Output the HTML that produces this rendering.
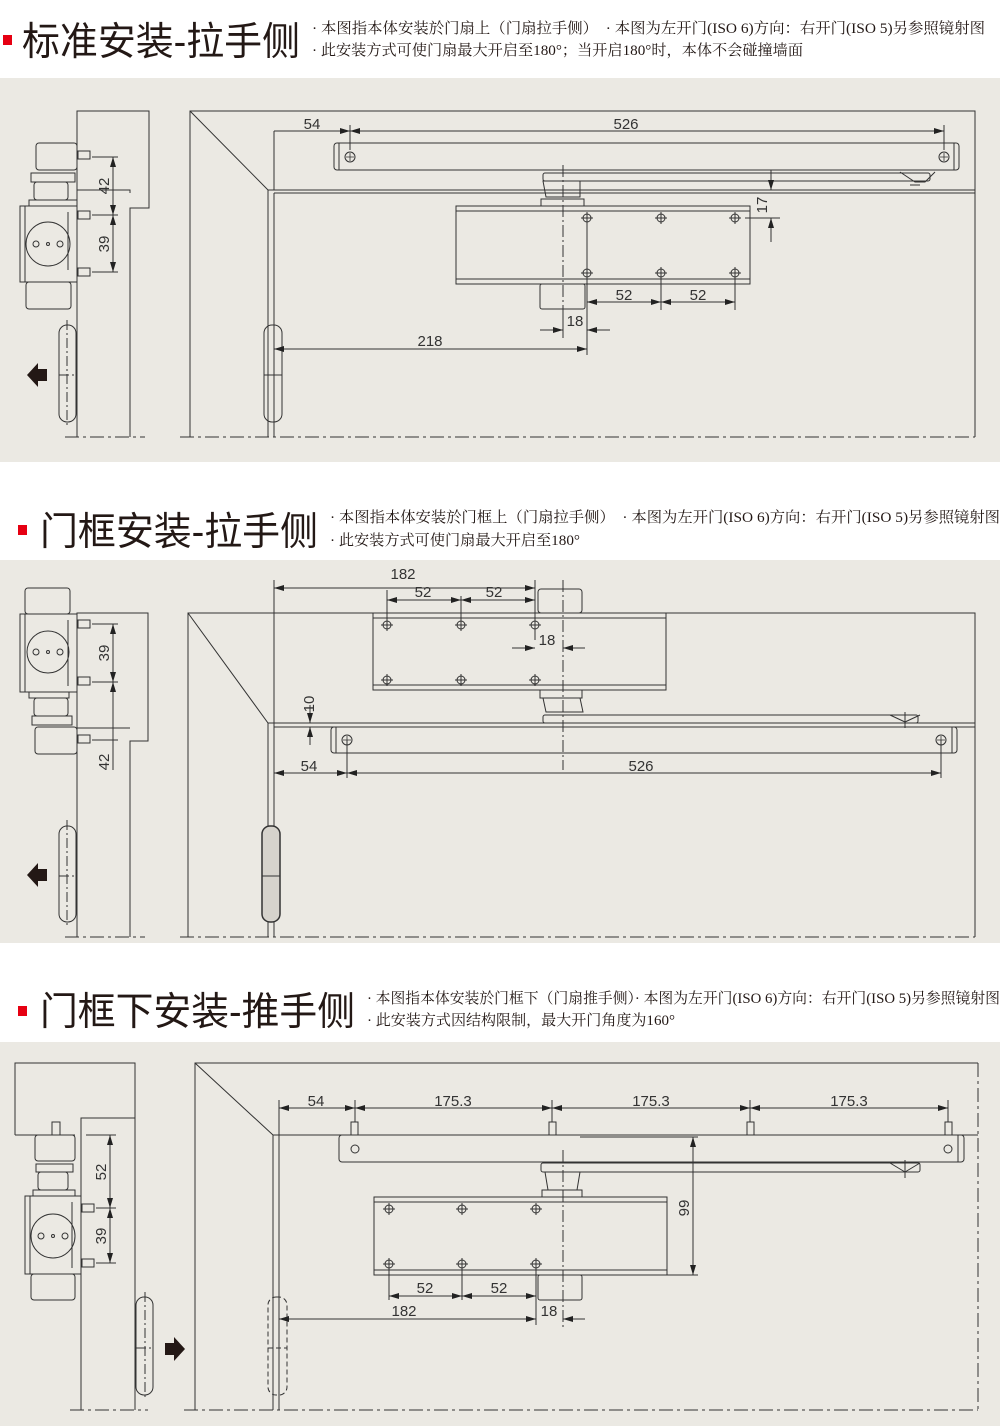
<!DOCTYPE html>
<html><head><meta charset="utf-8"><style>
html,body{margin:0;padding:0;background:#fff;}
svg{display:block}
.t{font-family:"Liberation Sans","Noto Sans CJK SC",sans-serif;font-size:39px;fill:#231815;font-weight:400}
.n{font-family:"Liberation Serif","Noto Serif CJK SC",serif;font-size:15px;fill:#231815}
.d{font-family:"Liberation Sans",sans-serif;font-size:15px;fill:#333}
</style></head><body>
<svg width="1000" height="1426" viewBox="0 0 1000 1426" xmlns="http://www.w3.org/2000/svg">
<defs>
<marker id="a" viewBox="0 0 10 6" refX="10" refY="3" markerWidth="10" markerHeight="6" orient="auto-start-reverse" markerUnits="userSpaceOnUse"><path d="M0,0L10,3L0,6z" fill="#222"/></marker>
<g id="h"><circle r="4" fill="none" stroke="#333"/><path d="M-6,0H6M0,-6V6" stroke="#333"/></g>
<g id="s"><circle r="5" fill="none" stroke="#333"/><path d="M-4,0H4M0,-4V4" stroke="#333" stroke-width=".8"/></g>
</defs>
<!-- panels -->
<rect x="0" y="78" width="1000" height="384" fill="#ebe9e3"/>
<rect x="0" y="560" width="1000" height="383" fill="#ebe9e3"/>
<rect x="0" y="1042" width="1000" height="384" fill="#ebe9e3"/>
<!-- headers -->
<rect x="3" y="35" width="9" height="10" fill="#e60012"/>
<text class="t" x="22" y="55" textLength="278" lengthAdjust="spacingAndGlyphs">标准安装-拉手侧</text>
<text class="n" x="312" y="33" textLength="673" lengthAdjust="spacingAndGlyphs">· 本图指本体安装於门扇上（门扇拉手侧）　· 本图为左开门(ISO 6)方向：右开门(ISO 5)另参照镜射图</text>
<text class="n" x="312" y="55" textLength="491" lengthAdjust="spacingAndGlyphs">· 此安装方式可使门扇最大开启至180°；当开启180°时，本体不会碰撞墙面</text>
<rect x="18" y="525" width="9" height="10" fill="#e60012"/>
<text class="t" x="40" y="545" textLength="278" lengthAdjust="spacingAndGlyphs">门框安装-拉手侧</text>
<text class="n" x="330" y="522" textLength="670" lengthAdjust="spacingAndGlyphs">· 本图指本体安装於门框上（门扇拉手侧）　· 本图为左开门(ISO 6)方向：右开门(ISO 5)另参照镜射图</text>
<text class="n" x="330" y="545" textLength="250" lengthAdjust="spacingAndGlyphs">· 此安装方式可使门扇最大开启至180°</text>
<rect x="18" y="1006" width="9" height="10" fill="#e60012"/>
<text class="t" x="40" y="1025" textLength="315" lengthAdjust="spacingAndGlyphs">门框下安装-推手侧</text>
<text class="n" x="367" y="1003" textLength="633" lengthAdjust="spacingAndGlyphs">· 本图指本体安装於门框下（门扇推手侧）· 本图为左开门(ISO 6)方向：右开门(ISO 5)另参照镜射图</text>
<text class="n" x="367" y="1025" textLength="308" lengthAdjust="spacingAndGlyphs">· 此安装方式因结构限制，最大开门角度为160°</text>

<g fill="none" stroke="#333" stroke-width="1">
<!-- ===== Section 1 left ===== -->
<path d="M77,437V111H149V208H130V437M77,190H130V193"/>
<rect x="36" y="143" width="41" height="27" rx="3"/>
<rect x="31" y="173" width="44" height="9"/>
<rect x="34" y="182" width="34" height="18" rx="3"/>
<rect x="29" y="200" width="48" height="6"/>
<rect x="20" y="206" width="57" height="76"/>
<path d="M25,206V282M68,212V270"/>
<circle cx="48" cy="244" r="22"/>
<circle cx="36" cy="244" r="3"/><circle cx="48" cy="244" r="1.5"/><circle cx="60" cy="244" r="3"/>
<rect x="26" y="282" width="45" height="27" rx="3"/>
<rect x="78" y="151" width="12" height="8"/><rect x="78" y="211" width="12" height="8"/><rect x="78" y="268" width="12" height="8"/>
<path d="M92,157H118M92,215H118M92,272H118"/>
<line x1="113" y1="157" x2="113" y2="215" marker-start="url(#a)" marker-end="url(#a)"/>
<line x1="113" y1="215" x2="113" y2="272" marker-start="url(#a)" marker-end="url(#a)"/>
<rect x="59" y="325" width="17" height="97" rx="8"/>
<path d="M59,375H76M67,320V428" stroke-dasharray="10 3 2 3"/>
<path d="M65,437H145M180,437H975" stroke-dasharray="14 4 3 4"/>
<!-- right view -->
<path d="M190,437V111H975V437M190,111L268,190H975M274,193H975M268,190V437M274,193V437"/>
<rect x="264" y="325" width="18" height="97" rx="8"/>
<path d="M264,375H282"/>
<rect x="334" y="143" width="625" height="27" rx="3"/>
<path d="M339,143V170M954,143V170"/>
<rect x="543" y="173" width="387" height="8" rx="2"/>
<path d="M543,181H580V197H546Z"/>
<rect x="541" y="199" width="43" height="7"/>
<rect x="456" y="206" width="294" height="78"/>
<path d="M456,211H750M456,279H750"/>
<rect x="540" y="284" width="45" height="25" rx="2"/>
<path d="M900,172L915,182H925L935,172M910,185H920"/>
<path d="M563,165V335" stroke-dasharray="12 3 2 3"/>
<path d="M274,131V190M350,125V150M944,125V150M587,218V355M661,273V310M735,273V310M745,218H780M563,310V338"/>
<line x1="274" y1="131" x2="350" y2="131" marker-end="url(#a)"/>
<line x1="350" y1="131" x2="944" y2="131" marker-start="url(#a)" marker-end="url(#a)"/>
<line x1="771" y1="170" x2="771" y2="190" marker-end="url(#a)"/>
<line x1="771" y1="218" x2="771" y2="242" marker-start="url(#a)"/>
<line x1="587" y1="302" x2="661" y2="302" marker-start="url(#a)" marker-end="url(#a)"/>
<line x1="661" y1="302" x2="735" y2="302" marker-start="url(#a)" marker-end="url(#a)"/>
<line x1="540" y1="330" x2="563" y2="330" marker-end="url(#a)"/>
<line x1="610" y1="330" x2="587" y2="330" marker-end="url(#a)"/>
<line x1="274" y1="349" x2="587" y2="349" marker-start="url(#a)" marker-end="url(#a)"/>
</g>
<use href="#s" x="350" y="157"/><use href="#s" x="944" y="157"/>
<use href="#h" x="587" y="218"/><use href="#h" x="661" y="218"/><use href="#h" x="735" y="218"/>
<use href="#h" x="587" y="273"/><use href="#h" x="661" y="273"/><use href="#h" x="735" y="273"/>
<path d="M27,375L38,363V369H47V381H38V387Z" fill="#231815"/>
<g class="d">
<text x="312" y="129" text-anchor="middle">54</text><text x="626" y="129" text-anchor="middle">526</text>
<text x="624" y="300" text-anchor="middle">52</text><text x="698" y="300" text-anchor="middle">52</text>
<text x="575" y="326" text-anchor="middle">18</text><text x="430" y="346" text-anchor="middle">218</text>
<text transform="translate(109,186) rotate(-90)" text-anchor="middle">42</text>
<text transform="translate(109,244) rotate(-90)" text-anchor="middle">39</text>
<text transform="translate(767,205) rotate(-90)" text-anchor="middle">17</text>
</g>

<!-- ===== Section 2 ===== -->
<g fill="none" stroke="#333" stroke-width="1">
<path d="M77,937V613H148V741H130V937M77,728H130"/>
<rect x="25" y="588" width="45" height="26" rx="3"/>
<rect x="20" y="614" width="57" height="78"/>
<path d="M25,614V692M68,620V686"/>
<circle cx="48" cy="652" r="21"/>
<circle cx="36" cy="652" r="3"/><circle cx="48" cy="652" r="1.5"/><circle cx="60" cy="652" r="3"/>
<rect x="29" y="692" width="40" height="6"/>
<rect x="34" y="698" width="34" height="18" rx="3"/>
<rect x="32" y="716" width="40" height="9"/>
<rect x="35" y="727" width="42" height="27" rx="3"/>
<rect x="78" y="620" width="12" height="8"/><rect x="78" y="677" width="12" height="8"/><rect x="78" y="735" width="12" height="8"/>
<path d="M92,624H118M92,682H118M92,740H118"/>
<line x1="113" y1="624" x2="113" y2="682" marker-start="url(#a)" marker-end="url(#a)"/>
<line x1="113" y1="682" x2="113" y2="770" marker-start="url(#a)"/>
<rect x="59" y="826" width="17" height="96" rx="8"/>
<path d="M59,876H76M67,820V928" stroke-dasharray="10 3 2 3"/>
<path d="M65,937H145M180,937H975" stroke-dasharray="14 4 3 4"/>
<path d="M188,937V613H975V937M188,613L268,723H975M274,727H975M268,723V937M274,727V937"/>
<rect x="262" y="826" width="18" height="96" rx="8" fill="#d6d3cc" stroke-width="1.5"/>
<path d="M262,876H280"/>
<rect x="373" y="613" width="293" height="77"/>
<path d="M373,618H666M373,685H666"/>
<rect x="538" y="589" width="44" height="24" rx="3"/>
<rect x="540" y="690" width="42" height="8"/>
<path d="M543,698H580L583,712H546Z"/>
<rect x="543" y="715" width="375" height="8" rx="2"/>
<path d="M890,715L905,722M920,715L905,722M905,712V728"/>
<rect x="331" y="727" width="626" height="26" rx="3"/>
<path d="M336,727V753M952,727V753"/>
<path d="M563,580V770" stroke-dasharray="12 3 2 3"/>
<path d="M274,580V775M535,580V640M387,590V625M461,596V625M347,740V778M941,740V778M300,723H320M300,727H320"/>
<line x1="274" y1="588" x2="535" y2="588" marker-start="url(#a)" marker-end="url(#a)"/>
<line x1="387" y1="600" x2="461" y2="600" marker-start="url(#a)" marker-end="url(#a)"/>
<line x1="461" y1="600" x2="535" y2="600" marker-start="url(#a)" marker-end="url(#a)"/>
<line x1="512" y1="648" x2="535" y2="648" marker-end="url(#a)"/>
<line x1="585" y1="648" x2="563" y2="648" marker-end="url(#a)"/>
<line x1="310" y1="705" x2="310" y2="723" marker-end="url(#a)"/>
<line x1="310" y1="745" x2="310" y2="727" marker-end="url(#a)"/>
<line x1="274" y1="773" x2="347" y2="773" marker-start="url(#a)" marker-end="url(#a)"/>
<line x1="347" y1="773" x2="941" y2="773" marker-start="url(#a)" marker-end="url(#a)"/>
</g>
<use href="#s" x="347" y="740"/><use href="#s" x="941" y="740"/>
<use href="#h" x="387" y="625"/><use href="#h" x="461" y="625"/><use href="#h" x="535" y="625"/>
<use href="#h" x="387" y="680"/><use href="#h" x="461" y="680"/><use href="#h" x="535" y="680"/>
<path d="M27,875L38,863V869H47V881H38V887Z" fill="#231815"/>
<g class="d">
<text x="403" y="579" text-anchor="middle">182</text>
<text x="423" y="597" text-anchor="middle">52</text><text x="494" y="597" text-anchor="middle">52</text>
<text x="547" y="645" text-anchor="middle">18</text>
<text x="309" y="771" text-anchor="middle">54</text><text x="641" y="771" text-anchor="middle">526</text>
<text transform="translate(109,653) rotate(-90)" text-anchor="middle">39</text>
<text transform="translate(109,762) rotate(-90)" text-anchor="middle">42</text>
<text transform="translate(314,704) rotate(-90)" text-anchor="middle">10</text>
</g>

<!-- ===== Section 3 ===== -->
<g fill="none" stroke="#333" stroke-width="1">
<path d="M15,1135V1063H135V1118H81V1410M135,1118V1410M15,1135H75"/>
<rect x="52" y="1122" width="8" height="13"/>
<rect x="35" y="1135" width="40" height="26" rx="3"/>
<rect x="36" y="1164" width="37" height="8"/>
<rect x="38" y="1172" width="30" height="18" rx="3"/>
<rect x="33" y="1190" width="42" height="6"/>
<rect x="25" y="1196" width="56" height="78"/>
<path d="M30,1196V1274M72,1202V1268"/>
<circle cx="53" cy="1236" r="22"/>
<circle cx="41" cy="1236" r="3"/><circle cx="53" cy="1236" r="1.5"/><circle cx="65" cy="1236" r="3"/>
<rect x="31" y="1274" width="44" height="26" rx="3"/>
<rect x="82" y="1204" width="12" height="8"/><rect x="82" y="1259" width="12" height="8"/>
<path d="M86,1135H116M96,1208H116M96,1263H116"/>
<line x1="110" y1="1135" x2="110" y2="1208" marker-start="url(#a)" marker-end="url(#a)"/>
<line x1="110" y1="1208" x2="110" y2="1263" marker-start="url(#a)" marker-end="url(#a)"/>
<rect x="136" y="1297" width="17" height="98" rx="8"/>
<path d="M136,1348H153M145,1292V1400" stroke-dasharray="10 3 2 3"/>
<path d="M70,1410H148M184,1410H978M978,1063V1410" stroke-dasharray="14 4 3 4"/>
<path d="M195,1410V1063H978M195,1063L273,1135H978M279,1135V1410M273,1135V1410"/>
<rect x="268" y="1297" width="19" height="98" rx="8" stroke-dasharray="5 3"/>
<path d="M268,1348H287" stroke-dasharray="5 3"/>
<rect x="339" y="1135" width="625" height="27" rx="3"/>
<path d="M958,1135V1162"/>
<circle cx="355" cy="1149" r="4"/><circle cx="948" cy="1149" r="4"/>
<rect x="351" y="1122" width="7" height="13"/><rect x="549" y="1122" width="7" height="13"/><rect x="747" y="1122" width="7" height="13"/><rect x="945" y="1122" width="7" height="13"/>
<rect x="541" y="1163" width="379" height="9" rx="2"/>
<path d="M545,1172H580L577,1190H548Z"/>
<rect x="542" y="1190" width="40" height="7"/>
<path d="M890,1163L905,1172M920,1163L905,1172M905,1160V1178"/>
<rect x="374" y="1197" width="293" height="78"/>
<path d="M374,1202H667M374,1270H667"/>
<rect x="538" y="1275" width="44" height="25" rx="2"/>
<path d="M563,1150V1330" stroke-dasharray="12 3 2 3"/>
<path d="M279,1100V1135M355,1100V1122M552,1100V1122M750,1100V1122M948,1100V1122M667,1275H698M580,1137H698M389,1264V1300M462,1264V1300M536,1264V1325"/>
<line x1="279" y1="1108" x2="355" y2="1108" marker-start="url(#a)" marker-end="url(#a)"/>
<line x1="355" y1="1108" x2="552" y2="1108" marker-start="url(#a)" marker-end="url(#a)"/>
<line x1="552" y1="1108" x2="750" y2="1108" marker-start="url(#a)" marker-end="url(#a)"/>
<line x1="750" y1="1108" x2="948" y2="1108" marker-start="url(#a)" marker-end="url(#a)"/>
<line x1="693" y1="1137" x2="693" y2="1275" marker-start="url(#a)" marker-end="url(#a)"/>
<line x1="389" y1="1296" x2="462" y2="1296" marker-start="url(#a)" marker-end="url(#a)"/>
<line x1="462" y1="1296" x2="536" y2="1296" marker-start="url(#a)" marker-end="url(#a)"/>
<line x1="279" y1="1319" x2="536" y2="1319" marker-start="url(#a)" marker-end="url(#a)"/>
<line x1="585" y1="1319" x2="563" y2="1319" marker-end="url(#a)"/>
</g>
<use href="#h" x="389" y="1209"/><use href="#h" x="462" y="1209"/><use href="#h" x="536" y="1209"/>
<use href="#h" x="389" y="1264"/><use href="#h" x="462" y="1264"/><use href="#h" x="536" y="1264"/>
<path d="M185,1349L174,1337V1343H165V1355H174V1361Z" fill="#231815"/>
<g class="d">
<text x="316" y="1106" text-anchor="middle">54</text>
<text x="453" y="1106" text-anchor="middle">175.3</text><text x="651" y="1106" text-anchor="middle">175.3</text><text x="849" y="1106" text-anchor="middle">175.3</text>
<text x="425" y="1293" text-anchor="middle">52</text><text x="499" y="1293" text-anchor="middle">52</text>
<text x="404" y="1316" text-anchor="middle">182</text><text x="549" y="1316" text-anchor="middle">18</text>
<text transform="translate(106,1172) rotate(-90)" text-anchor="middle">52</text>
<text transform="translate(106,1236) rotate(-90)" text-anchor="middle">39</text>
<text transform="translate(689,1208) rotate(-90)" text-anchor="middle">99</text>
</g>
</svg>
</body></html>
